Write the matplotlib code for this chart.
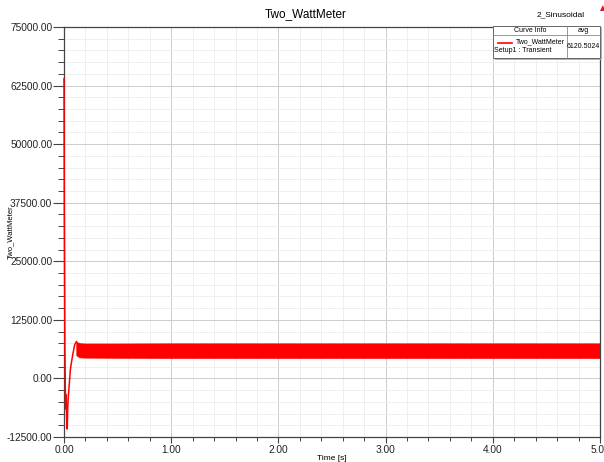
import numpy as np
import matplotlib
matplotlib.use("Agg")
from matplotlib import pyplot as plt
from matplotlib.patches import Rectangle
from matplotlib.lines import Line2D
from matplotlib.ticker import MultipleLocator, FormatStrFormatter

# start-up transient of the two-wattmeter power
t_start = [0.0, 0.003, 0.008, 0.012, 0.016, 0.020, 0.025, 0.030, 0.035,
           0.040, 0.050, 0.060, 0.070, 0.085, 0.100, 0.115]
p_start = [64000, 35000, 8000, -2000, -6500, -3500, -9000, -10800, -6000,
           -4000, -1000, 2000, 3500, 5500, 7200, 7850]

# steady-state ripple envelope
t_env = [0.115, 0.13, 0.15, 0.20, 0.50, 1.00, 1.50, 2.00, 2.50, 3.00,
         3.50, 4.00, 4.50, 5.00]
p_upper = [7850, 7650, 7500, 7450, 7450, 7480, 7480, 7480, 7480, 7480,
           7480, 7480, 7480, 7480]
p_lower = [5000, 4700, 4500, 4450, 4420, 4400, 4400, 4400, 4400, 4400,
           4400, 4400, 4400, 4400]

curve_name = "Two_WattMeter"
setup_name = "Setup1 : Transient"
avg_value = 6120.5024

plt.rcParams['font.family'] = ['Liberation Sans', 'DejaVu Sans']

W, H = 604, 462
fig = plt.figure(figsize=(W / 100, H / 100), dpi=100)


def px(x, y):
    return x / W, 1 - y / H


ax = fig.add_axes([64 / W, 1 - 437 / H, 536 / W, 410 / H])

ax.fill_between(t_env, p_lower, p_upper, color='#ff0000', lw=0.6, edgecolor='#ff0000')
ax.plot(t_start, p_start, color='#ff0000', lw=1.1, clip_on=False, zorder=4)

ax.set_xlim(0, 5)
ax.set_ylim(-12500, 75000)
ax.xaxis.set_major_locator(MultipleLocator(1.0))
ax.xaxis.set_minor_locator(MultipleLocator(0.2))
ax.yaxis.set_major_locator(MultipleLocator(12500))
ax.yaxis.set_minor_locator(MultipleLocator(2500))
ax.xaxis.set_major_formatter(FormatStrFormatter('%.2f'))
ax.yaxis.set_major_formatter(FormatStrFormatter('%.2f'))

ax.grid(which='major', color='#cdcdcd', lw=0.7)
ax.grid(which='minor', color='#ececec', lw=0.6)
ax.set_axisbelow(True)

ax.tick_params(axis='y', which='major', length=8, width=0.8, color='#444444',
               labelsize=7.3, labelcolor='#222222', pad=0.5)
ax.tick_params(axis='y', which='minor', length=4, width=0.7, color='#444444')
ax.tick_params(axis='x', which='major', length=4, width=0.8, color='#444444',
               labelsize=7.3, labelcolor='#222222', pad=1.5)
ax.tick_params(axis='x', which='minor', length=3, width=0.7, color='#444444')
for s in ax.spines.values():
    s.set_color('#444444')
    s.set_linewidth(0.9)

ax.set_xlabel('Time [s]', fontsize=6)
ax.set_ylabel(curve_name, fontsize=5.5)
ax.xaxis.set_label_coords((332 - 64) / 536, -(455 - 437) / 410)
ax.yaxis.set_label_coords(-(64 - 14) / 536, (437 - 232) / 410)

fig.text(*px(306, 14), curve_name, fontsize=8.5, ha='center', va='center')
fig.text(*px(585, 15), '2_Sinusoidal', fontsize=6, ha='right', va='center')
fig.text(*px(597, 8), '\u25b2', fontsize=7, color='#cc2222', ha='left', va='center')

# curve info box
bx0, bx1, by0, by1 = 493, 600, 26, 58
col, row = 567, 35
fig.add_artist(Rectangle(px(bx0 + 2, by1 + 2), (bx1 - bx0) / W, (by1 - by0) / H,
                         transform=fig.transFigure, facecolor='#b0b0b0',
                         edgecolor='none', zorder=5))
fig.add_artist(Rectangle(px(bx0, by1), (bx1 - bx0) / W, (by1 - by0) / H,
                         transform=fig.transFigure, facecolor='white',
                         edgecolor='#666666', lw=0.7, zorder=6))
fig.add_artist(Line2D([col / W, col / W], [1 - by0 / H, 1 - by1 / H],
                      transform=fig.transFigure, color='#888888', lw=0.6, zorder=7))
fig.add_artist(Line2D([bx0 / W, bx1 / W], [1 - row / H, 1 - row / H],
                      transform=fig.transFigure, color='#888888', lw=0.6, zorder=7))
fig.add_artist(Line2D([498 / W, 512 / W], [1 - 43 / H, 1 - 43 / H],
                      transform=fig.transFigure, color='#ff0000', lw=1.2, zorder=7))
fs = 5
fig.text(*px((bx0 + col) / 2, 30.5), 'Curve Info', fontsize=fs, ha='center', va='center', zorder=8)
fig.text(*px((col + bx1) / 2, 30.5), 'avg', fontsize=fs, ha='center', va='center', zorder=8)
fig.text(*px(565, 42), curve_name, fontsize=fs, ha='right', va='center', zorder=8)
fig.text(*px(494, 50.5), setup_name, fontsize=fs, ha='left', va='center', zorder=8)
fig.text(*px((col + bx1) / 2, 46), '%.4f' % avg_value, fontsize=fs, ha='center', va='center', zorder=8)

fig.savefig('out.png', dpi=100)
